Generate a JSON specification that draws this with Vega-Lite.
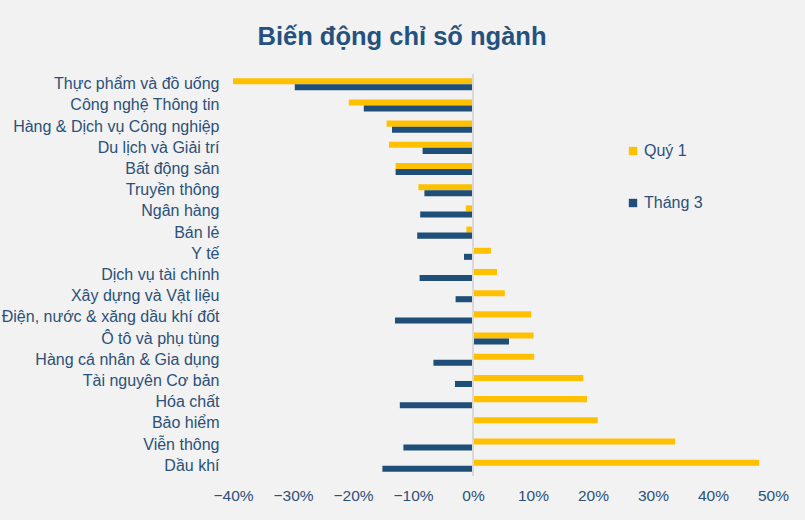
{
  "$schema": "https://vega.github.io/schema/vega-lite/v6.json",
  "autosize": {"type": "none"},
  "width": 540,
  "height": 402,
  "padding": {"left": 233, "top": 74, "right": 32, "bottom": 44},
  "background": "#f2f2f2",
  "title": {
    "text": "Biến động chỉ số ngành",
    "font": "Liberation Sans",
    "fontSize": 25.5,
    "fontWeight": "bold",
    "color": "#24517e",
    "anchor": "middle",
    "dx": -101,
    "offset": 23
  },
  "config": {
    "view": {"stroke": null},
    "axis": {"labelFont": "Liberation Sans", "labelColor": "#2b5079", "labelFontSize": 15},
    "legend": {"labelFont": "Liberation Sans", "labelColor": "#2b5079", "labelFontSize": 16}
  },
  "data": {
    "values": [
      {"nganh": "Thực phẩm và đồ uống", "ky": "Quý 1", "v": -0.400},
      {"nganh": "Thực phẩm và đồ uống", "ky": "Tháng 3", "v": -0.297},
      {"nganh": "Công nghệ Thông tin", "ky": "Quý 1", "v": -0.207},
      {"nganh": "Công nghệ Thông tin", "ky": "Tháng 3", "v": -0.182},
      {"nganh": "Hàng & Dịch vụ Công nghiệp", "ky": "Quý 1", "v": -0.144},
      {"nganh": "Hàng & Dịch vụ Công nghiệp", "ky": "Tháng 3", "v": -0.135},
      {"nganh": "Du lịch và Giải trí", "ky": "Quý 1", "v": -0.140},
      {"nganh": "Du lịch và Giải trí", "ky": "Tháng 3", "v": -0.084},
      {"nganh": "Bất động sản", "ky": "Quý 1", "v": -0.129},
      {"nganh": "Bất động sản", "ky": "Tháng 3", "v": -0.129},
      {"nganh": "Truyền thông", "ky": "Quý 1", "v": -0.091},
      {"nganh": "Truyền thông", "ky": "Tháng 3", "v": -0.081},
      {"nganh": "Ngân hàng", "ky": "Quý 1", "v": -0.012},
      {"nganh": "Ngân hàng", "ky": "Tháng 3", "v": -0.088},
      {"nganh": "Bán lẻ", "ky": "Quý 1", "v": -0.011},
      {"nganh": "Bán lẻ", "ky": "Tháng 3", "v": -0.093},
      {"nganh": "Y tế", "ky": "Quý 1", "v": 0.030},
      {"nganh": "Y tế", "ky": "Tháng 3", "v": -0.015},
      {"nganh": "Dịch vụ tài chính", "ky": "Quý 1", "v": 0.040},
      {"nganh": "Dịch vụ tài chính", "ky": "Tháng 3", "v": -0.089},
      {"nganh": "Xây dựng và Vật liệu", "ky": "Quý 1", "v": 0.053},
      {"nganh": "Xây dựng và Vật liệu", "ky": "Tháng 3", "v": -0.029},
      {"nganh": "Điện, nước & xăng dầu khí đốt", "ky": "Quý 1", "v": 0.097},
      {"nganh": "Điện, nước & xăng dầu khí đốt", "ky": "Tháng 3", "v": -0.130},
      {"nganh": "Ô tô và phụ tùng", "ky": "Quý 1", "v": 0.101},
      {"nganh": "Ô tô và phụ tùng", "ky": "Tháng 3", "v": 0.060},
      {"nganh": "Hàng cá nhân & Gia dụng", "ky": "Quý 1", "v": 0.102},
      {"nganh": "Hàng cá nhân & Gia dụng", "ky": "Tháng 3", "v": -0.066},
      {"nganh": "Tài nguyên Cơ bản", "ky": "Quý 1", "v": 0.184},
      {"nganh": "Tài nguyên Cơ bản", "ky": "Tháng 3", "v": -0.030},
      {"nganh": "Hóa chất", "ky": "Quý 1", "v": 0.190},
      {"nganh": "Hóa chất", "ky": "Tháng 3", "v": -0.122},
      {"nganh": "Bảo hiểm", "ky": "Quý 1", "v": 0.208},
      {"nganh": "Bảo hiểm", "ky": "Tháng 3", "v": 0.0},
      {"nganh": "Viễn thông", "ky": "Quý 1", "v": 0.337},
      {"nganh": "Viễn thông", "ky": "Tháng 3", "v": -0.116},
      {"nganh": "Dầu khí", "ky": "Quý 1", "v": 0.477},
      {"nganh": "Dầu khí", "ky": "Tháng 3", "v": -0.151}
    ]
  },
  "encoding": {
    "y": {
      "field": "nganh",
      "type": "nominal",
      "sort": null,
      "scale": {"paddingInner": 0.43, "paddingOuter": 0.2},
      "axis": {"title": null, "domain": false, "ticks": false, "labelPadding": 14, "labelFontSize": 16, "labelLimit": 300}
    }
  },
  "layer": [
    {
      "mark": {"type": "bar"},
      "encoding": {
        "x": {
          "field": "v",
          "type": "quantitative",
          "scale": {"domain": [-0.4, 0.5], "nice": false},
          "axis": {"title": null, "format": ".0%", "values": [-0.4,-0.3,-0.2,-0.1,0,0.1,0.2,0.3,0.4,0.5], "grid": false, "domain": false, "ticks": false, "labelPadding": 12, "labelFlush": false, "labelFontSize": 15.5}
        },
        "yOffset": {"field": "ky", "type": "nominal", "sort": ["Quý 1", "Tháng 3"]},
        "color": {
          "field": "ky",
          "type": "nominal",
          "scale": {"domain": ["Quý 1", "Tháng 3"], "range": ["#FFC000", "#1F4E79"]},
          "legend": {
            "title": null,
            "orient": "none",
            "legendX": 392,
            "legendY": 69,
            "symbolType": "square",
            "symbolSize": 70,
            "symbolStrokeWidth": 0,
            "rowPadding": 36,
            "labelOffset": 3
          }
        }
      }
    },
    {
      "mark": {"type": "rule", "color": "#d9d9d9", "strokeWidth": 2},
      "encoding": {"x": {"datum": 0}, "y": null}
    }
  ]
}
